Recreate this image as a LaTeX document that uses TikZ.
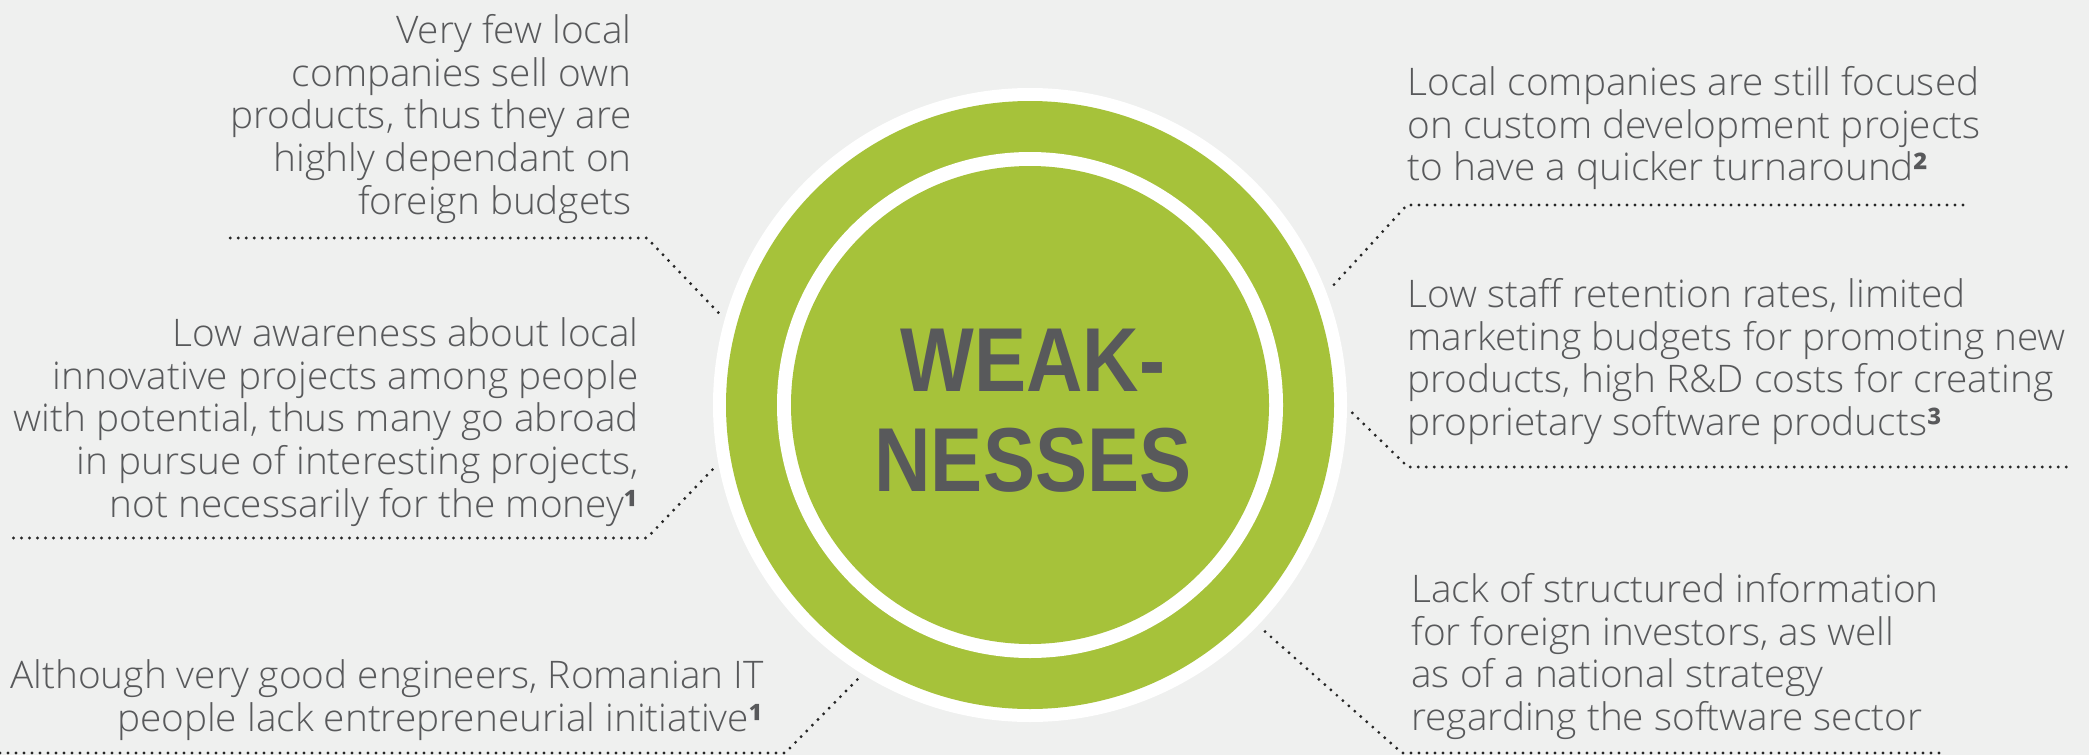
\documentclass[tikz,border=0pt]{standalone}
\usepackage{fontspec}
\setmainfont{Open Sans}[UprightFont={* Light}, FakeStretch=1.02]
\newfontfamily\supfont{Open Sans}[FakeStretch=1.02]
\newfontfamily\titlefont{Liberation Sans}[FakeStretch=0.86]
\newcommand{\fnmark}[1]{{\supfont\bfseries #1}}
\definecolor{bgc}{HTML}{EFF0EF}
\definecolor{lime}{HTML}{A6C23A}
\definecolor{ink}{HTML}{58595B}
\definecolor{dotc}{HTML}{262626}
\begin{document}
\begin{tikzpicture}[x=0.5pt,y=-0.5pt,
  txt/.style={inner sep=0pt, text=ink, font=\fontsize{19pt}{21.35pt}\selectfont},
  lefttext/.style={txt, align=right, anchor=north east},
  righttext/.style={txt, align=left, anchor=north west},
  leader/.style={draw=dotc, line width=1.6pt, line cap=round, dash pattern=on 0pt off 4pt},
]
\fill[bgc] (0,0) rectangle (2089,755);
\useasboundingbox (0,0) rectangle (2089,755);

% central disc
\node[circle, fill=white, minimum size=317pt, inner sep=0pt, outer sep=1.5pt] (core) at (1030,405) {};
\fill[lime] (core.center) circle[radius=304];
\fill[white] (core.center) circle[radius=253];
\fill[lime] (core.center) circle[radius=239];
\node[text=ink, font=\titlefont\fontsize{45.4pt}{50pt}\selectfont\bfseries, align=center, anchor=north, inner sep=0pt] (title) at (1033,323) {\rule{0pt}{34pt}WEAK-\\NESSES};

% left texts
\node[lefttext] (w1) at (632,3) {\rule{0pt}{20pt}Very few local\\companies sell own\\products, thus they are\\highly dependant on\\foreign budgets};
\node[lefttext] (w2) at (639,306) {\rule{0pt}{20pt}Low awareness about local\\innovative projects among people\\with potential, thus many go abroad\\in pursue of interesting projects,\\not necessarily for the money\fnmark{¹}};
\node[lefttext] (w3) at (764,648) {\rule{0pt}{20pt}Although very good engineers, Romanian IT\\people lack entrepreneurial initiative\fnmark{¹}};

% right texts
\node[righttext] (w4) at (1407,55) {\rule{0pt}{20pt}Local companies are still focused\\on custom development projects\\to have a quicker turnaround\fnmark{²}};
\node[righttext] (w5) at (1407,267) {\rule{0pt}{20pt}Low staff retention rates, limited\\marketing budgets for promoting new\\products, high R\&D costs for creating\\proprietary software products\fnmark{³}};
\node[righttext] (w6) at (1411,562) {\rule{0pt}{20pt}Lack of structured information\\for foreign investors, as well\\as of a national strategy\\regarding the software sector};

% leader corners
\coordinate (k1) at (647,238);
\coordinate (k2) at (647,538);
\coordinate (k3) at (785,753);
\coordinate (k4) at (1407,205);
\coordinate (k5) at (1408,467);
\coordinate (k6) at (1402,753);
\coordinate (e4) at (1963,205);

\draw[leader] (w1.west |- k1) -- (k1) -- (core.164);
\draw[leader] (w2.west |- k2) -- (k2) -- (core.-169);
\draw[leader] (0,753) -- (k3) -- (core.238);
\draw[leader] (e4) -- (k4) -- (core.21.5);
\draw[leader] (w5.east |- k5) -- (k5) -- (core.-1.3);
\draw[leader] (w6.east |- k6) -- (k6) -- (core.-44);
\end{tikzpicture}
\end{document}
